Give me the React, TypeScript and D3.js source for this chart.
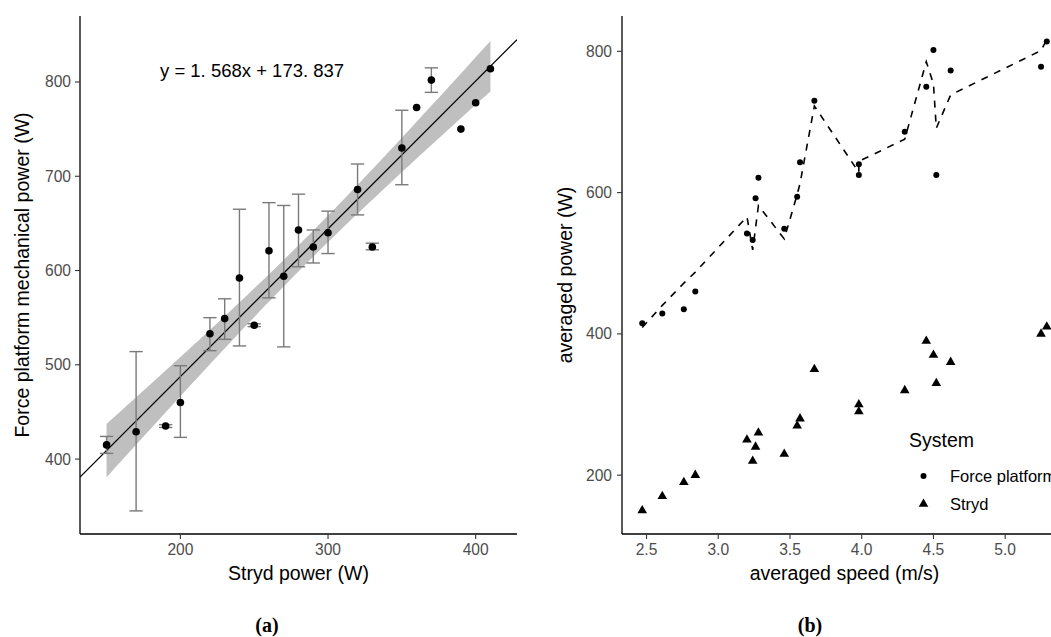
import React from "react";
import * as d3 from "d3";

// ---- data (one entry per running trial) ----
const stryd = [150, 170, 190, 200, 220, 230, 240, 250, 260, 270, 280, 290, 300, 320, 330, 350, 360, 370, 390, 400, 410];
const force = [415, 429, 435, 460, 533, 549, 592, 542, 621, 594, 643, 625, 640, 686, 625, 730, 773, 802, 750, 778, 814];
const speed = [2.47, 2.61, 2.76, 2.84, 3.24, 3.46, 3.26, 3.2, 3.28, 3.55, 3.57, 3.98, 3.98, 4.3, 4.52, 3.67, 4.62, 4.5, 4.45, 5.25, 5.29];
const errLow: (number | null)[] = [406, 345, 433.5, 423, 515, 527, 520, 540.5, 571, 519, 604, 608, 618, 659, 622, 691, null, 789, null, null, null];
const errHigh: (number | null)[] = [424, 514, 436.5, 499, 550, 570, 665, 543.5, 672, 669, 681, 643, 663, 713, 629, 770, null, 815, null, null, null];

const slope = 1.568;
const intercept = 173.837;
const tCrit = 2.093; // t(0.975, df = 19)

const leftXTicks = [200, 300, 400];
const leftYTicks = [400, 500, 600, 700, 800];
const rightXTicks = [2.5, 3.0, 3.5, 4.0, 4.5, 5.0];
const rightYTicks = [200, 400, 600, 800];

const FONT = "'Liberation Sans', Arial, Helvetica, sans-serif";
const TICK_COLOR = "#333333";
const LABEL_COLOR = "#4d4d4d";

export default function App() {
  const top = 16;
  const bottom = 534;

  // ---- left panel scales ----
  const xL = d3.scaleLinear().domain([132, 428]).range([80, 517]);
  const yL = d3.scaleLinear().domain([320.5, 870]).range([bottom, top]);

  // ---- right panel scales ----
  const xR = d3.scaleLinear().domain([2.329, 5.431]).range([622, 1067]);
  const yR = d3.scaleLinear().domain([116.7, 850]).range([bottom, top]);

  const pts = stryd.map((s, i) => ({
    s,
    f: force[i],
    v: speed[i],
    lo: errLow[i],
    hi: errHigh[i],
    i,
  }));

  // regression confidence band (from the residuals around the fitted line)
  const n = stryd.length;
  const xbar = d3.mean(stryd) as number;
  const sxx = d3.sum(stryd, (x) => (x - xbar) ** 2);
  const sse = d3.sum(pts, (p) => (p.f - (slope * p.s + intercept)) ** 2);
  const sRes = Math.sqrt(sse / (n - 2));
  const xmin = d3.min(stryd) as number;
  const xmax = d3.max(stryd) as number;
  const bandX = d3.range(0, 81).map((k) => xmin + ((xmax - xmin) * k) / 80);
  const band = bandX.map((x) => {
    const fit = slope * x + intercept;
    const se = sRes * Math.sqrt(1 / n + (x - xbar) ** 2 / sxx);
    return { x, lo: fit - tCrit * se, hi: fit + tCrit * se };
  });
  const areaGen = d3
    .area<{ x: number; lo: number; hi: number }>()
    .x((d) => xL(d.x))
    .y0((d) => yL(d.lo))
    .y1((d) => yL(d.hi));

  const lineDomain = xL.domain();
  const regLine = d3
    .line<number>()
    .x((x) => xL(x))
    .y((x) => yL(slope * x + intercept))(lineDomain);

  // dashed line: fitted force platform power from Stryd, ordered by speed
  const sorted = pts.slice().sort((a, b) => a.v - b.v || a.i - b.i);
  const dashed = d3
    .line<(typeof pts)[0]>()
    .x((p) => xR(p.v))
    .y((p) => yR(slope * p.s + intercept))(sorted);

  const tri = d3.symbol().type(d3.symbolTriangle).size(40)();

  const capHalf = 4.5; // data units

  return (
    <svg
      width={1051}
      height={637}
      style={{ position: "absolute", left: 0, top: 0, background: "#fff" }}
      fontFamily={FONT}
    >
      <defs>
        <clipPath id="clipL">
          <rect x={80} y={top} width={437} height={bottom - top} />
        </clipPath>
      </defs>

      {/* ================= LEFT PANEL ================= */}
      <g>
        <path d={areaGen(band) || ""} fill="#bfbfbf" />
        <path d={regLine || ""} stroke="#000" strokeWidth={1.3} fill="none" clipPath="url(#clipL)" />
        {pts
          .filter((p) => p.lo !== null && p.hi !== null)
          .map((p) => (
            <g key={"e" + p.i} stroke="#7a7a7a" strokeWidth={1.4} fill="none">
              <line x1={xL(p.s)} x2={xL(p.s)} y1={yL(p.lo as number)} y2={yL(p.hi as number)} />
              <line x1={xL(p.s - capHalf)} x2={xL(p.s + capHalf)} y1={yL(p.lo as number)} y2={yL(p.lo as number)} />
              <line x1={xL(p.s - capHalf)} x2={xL(p.s + capHalf)} y1={yL(p.hi as number)} y2={yL(p.hi as number)} />
            </g>
          ))}
        {pts.map((p) => (
          <circle key={"p" + p.i} cx={xL(p.s)} cy={yL(p.f)} r={3.8} fill="#000" />
        ))}
        <text x={160} y={77} fontSize={18.5} fill="#000">
          y = 1. 568x + 173. 837
        </text>

        {/* axes */}
        <line x1={80} x2={80} y1={top} y2={bottom} stroke="#000" strokeWidth={1.3} />
        <line x1={80} x2={517} y1={bottom} y2={bottom} stroke="#000" strokeWidth={1.3} />
        {leftXTicks.map((t) => (
          <g key={"lx" + t}>
            <line x1={xL(t)} x2={xL(t)} y1={bottom} y2={bottom + 5} stroke={TICK_COLOR} strokeWidth={1.1} />
            <text x={xL(t)} y={555} textAnchor="middle" fontSize={15.6} fill={LABEL_COLOR}>
              {t}
            </text>
          </g>
        ))}
        {leftYTicks.map((t) => (
          <g key={"ly" + t}>
            <line x1={75} x2={80} y1={yL(t)} y2={yL(t)} stroke={TICK_COLOR} strokeWidth={1.1} />
            <text x={71} y={yL(t)} dy="0.35em" textAnchor="end" fontSize={15.6} fill={LABEL_COLOR}>
              {t}
            </text>
          </g>
        ))}
        <text x={298.5} y={580} textAnchor="middle" fontSize={19.5} fill="#000">
          Stryd power (W)
        </text>
        <text transform={`translate(29, ${(top + bottom) / 2}) rotate(-90)`} textAnchor="middle" fontSize={19.5} fill="#000">
          Force platform mechanical power (W)
        </text>
        <text x={267} y={632} textAnchor="middle" fontSize={20} fontWeight="bold" fontFamily="'Liberation Serif', 'DejaVu Serif', serif" fill="#000">
          (a)
        </text>
      </g>

      {/* ================= RIGHT PANEL ================= */}
      <g>
        <path d={dashed || ""} stroke="#000" strokeWidth={1.6} strokeDasharray="7,7" fill="none" />
        {pts.map((p) => (
          <circle key={"rf" + p.i} cx={xR(p.v)} cy={yR(p.f)} r={3.0} fill="#000" />
        ))}
        {pts.map((p) => (
          <path key={"rs" + p.i} d={tri || ""} transform={`translate(${xR(p.v)}, ${yR(p.s)})`} fill="#000" />
        ))}

        {/* axes */}
        <line x1={622} x2={622} y1={top} y2={bottom} stroke="#000" strokeWidth={1.3} />
        <line x1={622} x2={1067} y1={bottom} y2={bottom} stroke="#000" strokeWidth={1.3} />
        {rightXTicks.map((t) => (
          <g key={"rx" + t}>
            <line x1={xR(t)} x2={xR(t)} y1={bottom} y2={bottom + 5} stroke={TICK_COLOR} strokeWidth={1.1} />
            <text x={xR(t)} y={555} textAnchor="middle" fontSize={15.6} fill={LABEL_COLOR}>
              {d3.format(".1f")(t)}
            </text>
          </g>
        ))}
        {rightYTicks.map((t) => (
          <g key={"ry" + t}>
            <line x1={617} x2={622} y1={yR(t)} y2={yR(t)} stroke={TICK_COLOR} strokeWidth={1.1} />
            <text x={612} y={yR(t)} dy="0.35em" textAnchor="end" fontSize={15.6} fill={LABEL_COLOR}>
              {t}
            </text>
          </g>
        ))}
        <text x={844.5} y={580} textAnchor="middle" fontSize={19.5} fill="#000">
          averaged speed (m/s)
        </text>
        <text transform={`translate(572, ${(top + bottom) / 2}) rotate(-90)`} textAnchor="middle" fontSize={19.5} fill="#000">
          averaged power (W)
        </text>

        {/* legend */}
        <text x={909} y={447} fontSize={19.5} fill="#000">
          System
        </text>
        <circle cx={923.5} cy={476} r={3.0} fill="#000" />
        <text x={950} y={476} dy="0.35em" fontSize={16.5} fill="#000">
          Force platform
        </text>
        <path d={tri || ""} transform="translate(923.5, 504)" fill="#000" />
        <text x={950} y={504} dy="0.35em" fontSize={16.5} fill="#000">
          Stryd
        </text>

        <text x={810} y={632} textAnchor="middle" fontSize={20} fontWeight="bold" fontFamily="'Liberation Serif', 'DejaVu Serif', serif" fill="#000">
          (b)
        </text>
      </g>
    </svg>
  );
}
